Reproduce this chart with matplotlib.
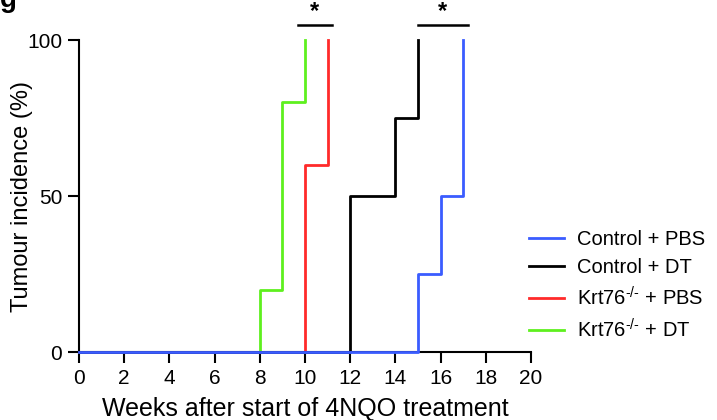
import matplotlib
matplotlib.use("Agg")
import matplotlib.pyplot as plt

plt.rcParams['font.family'] = ['Liberation Sans', 'DejaVu Sans']
plt.rcParams['mathtext.fontset'] = 'custom'
plt.rcParams['mathtext.rm'] = 'Liberation Sans'
plt.rcParams['mathtext.it'] = 'Liberation Sans'
plt.rcParams['mathtext.default'] = 'regular'

# step curves: week at which each step starts, incidence (%)
ctrl_pbs_x = [0, 15, 16, 17]
ctrl_pbs_y = [0, 25, 50, 100]
ctrl_dt_x = [0, 12, 14, 15]
ctrl_dt_y = [0, 50, 75, 100]
krt_pbs_x = [0, 10, 11]
krt_pbs_y = [0, 60, 100]
krt_dt_x = [0, 8, 9, 10]
krt_dt_y = [0, 20, 80, 100]

labels = ['Control + PBS', 'Control + DT',
          'Krt76$^{\u2010/\u2010}$ + PBS', 'Krt76$^{\u2010/\u2010}$ + DT']
colors = ['#3a5cff', '#000000', '#ff2a2a', '#5ef01e']

# significance brackets (x start, x end)
brackets = [(9.67, 11.2), (15.0, 17.2)]

fig = plt.figure(figsize=(7.17, 4.2), dpi=100)
ax = fig.add_axes([79 / 717, 68 / 420, 452 / 717, 312 / 420])

series = [(ctrl_pbs_x, ctrl_pbs_y), (ctrl_dt_x, ctrl_dt_y),
          (krt_pbs_x, krt_pbs_y), (krt_dt_x, krt_dt_y)]
# draw in reverse so blue ends up on top of the zero line
for i in [3, 2, 1, 0]:
    xs, ys = series[i]
    ax.step(xs, ys, where='post', color=colors[i], lw=2, label=labels[i],
            clip_on=False, zorder=3 + (3 - i))

for x0, x1 in brackets:
    ax.plot([x0, x1], [104.8, 104.8], color='black', lw=1.8, clip_on=False)
    ax.text((x0 + x1) / 2, 105.3, '*', ha='center', va='bottom',
            fontsize=17, fontweight='bold')

ax.set_xlim(0, 20)
ax.set_ylim(0, 100)
ax.set_xticks(range(0, 21, 2))
ax.set_yticks([0, 50, 100])
ax.spines['top'].set_visible(False)
ax.spines['right'].set_visible(False)
for s in ['left', 'bottom']:
    ax.spines[s].set_linewidth(1.5)
ax.tick_params(width=1.5, length=8, labelsize=15, pad=4)
ax.set_xlabel('Weeks after start of 4NQO treatment', fontsize=18)
ax.set_ylabel('Tumour incidence (%)', fontsize=17)
ax.xaxis.set_label_coords(0.5, -0.145)
ax.yaxis.set_label_coords(-0.102, 0.5)

h, l = ax.get_legend_handles_labels()
order = [l.index(lab) for lab in labels]
ax.legend([h[k] for k in order], [l[k] for k in order],
          loc='center left', bbox_to_anchor=(0.995, 0.213), frameon=False,
          fontsize=14.5, handlelength=1.75, handletextpad=0.65,
          labelspacing=0.45, borderaxespad=0, borderpad=0)

fig.text(0.0, 1.0, 'g', fontsize=20, fontweight='bold', va='center', ha='left')

fig.savefig('out.png', dpi=100)
